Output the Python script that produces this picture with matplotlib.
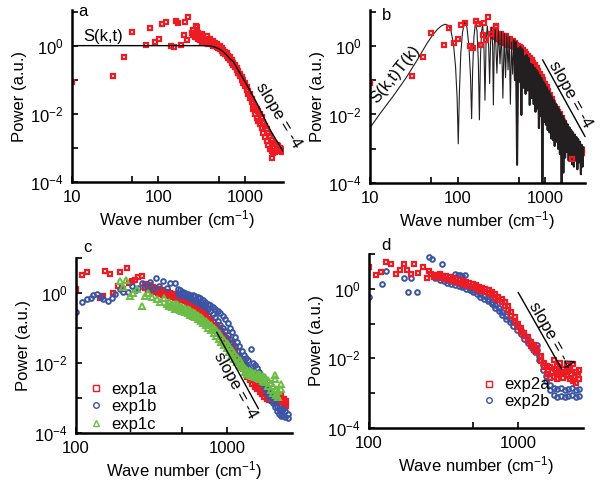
import matplotlib
matplotlib.use("Agg")
import matplotlib.pyplot as plt
from matplotlib.ticker import NullLocator

plt.rcParams['font.family'] = ['Liberation Sans', 'DejaVu Sans']
plt.rcParams['mathtext.default'] = 'regular'

RED = '#ed1c24'
BLUE = '#3a55a4'
GREEN = '#6cbd45'

# ---- panel a / b : measured spectrum (same data in both) ----
exp_k = [10, 30, 40, 50, 71, 80, 91, 101, 110, 122, 140, 151, 161, 170, 184, 195, 202, 214, 221, 242, 272, 2050]
exp_p = [0.083, 0.13, 0.48, 2.46, 1.05, 3.3, 1.25, 1.57, 4.2, 4.8, 1.0, 0.9, 5.3, 4.5, 1.05, 2.06, 4.8, 1.5, 6.8, 2.3, 3.8, 0.00049]
band_k = [253, 265, 276, 290, 302, 316, 330, 345, 360, 377, 394, 412, 430, 450, 471, 492, 514, 537, 562, 587,
          614, 641, 671, 701, 733, 766, 801, 837, 875, 915, 956, 1000, 1046, 1093, 1142, 1194, 1248, 1305, 1364, 1426,
          1490, 1557, 1628, 1700, 1780, 1860, 1945, 2030, 2125, 2220, 2322, 2430, 2538, 2650]
band_hi = [2.9, 2.4, 3.6, 2.3, 2.0, 2.2, 1.9, 1.6, 1.9, 1.5, 1.6, 1.3, 1.4, 1.2, 1.1, 1.0, 0.95, 0.85, 0.75, 0.66,
           0.6, 0.5, 0.45, 0.38, 0.32, 0.27, 0.22, 0.18, 0.15, 0.12, 0.1, 0.08, 0.062, 0.048, 0.037, 0.028, 0.021, 0.016, 0.014, 0.012,
           0.01, 0.008, 0.0055, 0.0045, 0.0035, 0.0028, 0.0022, 0.0017, 0.0014, 0.0013, 0.0012, 0.0011, 0.001, 0.0009]
band_lo = [2.0, 1.8, 1.8, 1.6, 1.5, 1.3, 1.4, 1.2, 1.3, 1.1, 1.2, 1.1, 1.0, 0.95, 0.9, 0.85, 0.78, 0.7, 0.62, 0.56,
           0.5, 0.43, 0.38, 0.32, 0.27, 0.23, 0.19, 0.155, 0.125, 0.1, 0.082, 0.065, 0.05, 0.038, 0.029, 0.022, 0.014, 0.01, 0.0075, 0.006,
           0.005, 0.0038, 0.0028, 0.0021, 0.0016, 0.0012, 0.00095, 0.0008, 0.0007, 0.00075, 0.0009, 0.00085, 0.0008, 0.00075]

# S(k,t) model curve (panel a)
sk_k = [10, 100, 300, 380, 412, 450, 505, 560, 614, 670, 733, 800, 875, 1000, 1140, 1365, 1630, 1950, 2330, 2750]
sk_p = [1.0, 1.0, 1.0, 0.99, 0.96, 0.9, 0.8, 0.66, 0.53, 0.41, 0.34, 0.23, 0.155, 0.088, 0.048, 0.021, 0.0084, 0.0034, 0.0016, 0.0008]

# S(k,t)T(k) model curve (panel b): smooth low-k part, then peaks / troughs
skt_low_k = [10, 13, 18.5, 26, 34, 44, 52, 60, 66, 72, 78, 84, 90, 95, 99, 102, 105, 109, 114, 121,
             128, 135, 141, 145, 149, 154, 160, 167, 173, 178, 183, 188, 194, 200, 206, 212, 219, 226, 233, 239,
             246, 252, 257, 263]
skt_low_p = [0.0041, 0.0105, 0.035, 0.12, 0.36, 1.1, 2.1, 3.2, 3.9, 4.3, 4.0, 2.9, 1.1, 0.25, 0.03, 0.0014, 0.04, 0.6, 2.5, 5.1,
             3.6, 1.0, 0.12, 0.0075, 0.2, 1.8, 4.6, 2.8, 0.35, 0.007, 0.45, 2.6, 4.0, 1.3, 0.026, 1.2, 3.8, 1.5, 0.08, 1.4,
             3.5, 1.0, 0.019, 1.1]
skt_peak_k = [270, 294, 318, 342, 366, 390, 414, 440, 466, 494, 522, 552, 584, 617, 651, 687, 725, 760, 796, 833,
              872, 913, 956, 1001, 1048, 1097, 1149, 1203, 1260, 1319, 1381, 1446, 1514, 1585, 1660, 1738, 1820, 1905, 1995, 2089,
              2187, 2290, 2398, 2511, 2629, 2750]
skt_peak_p = [3.2, 2.9, 2.6, 2.35, 2.1, 1.85, 1.3, 1.45, 1.28, 0.85, 0.95, 0.8, 0.5, 0.55, 0.45, 0.3, 0.28, 0.23, 0.2, 0.17,
              0.14, 0.115, 0.092, 0.076, 0.062, 0.05, 0.04, 0.032, 0.026, 0.021, 0.017, 0.014, 0.0115, 0.0092, 0.0075, 0.0062, 0.0051, 0.0042, 0.0035, 0.003,
              0.0026, 0.0022, 0.0019, 0.0016, 0.0013, 0.0011]
skt_trough_k = [282, 306, 330, 354, 378, 402, 427, 453, 480, 508, 537, 568, 600, 634, 669, 706, 742, 778, 814, 852,
                892, 934, 978, 1024, 1072, 1123, 1176, 1231, 1289, 1350, 1413, 1480, 1549, 1622, 1699, 1779, 1862, 1950, 2042, 2138,
                2238, 2344, 2454, 2571, 2689]
skt_trough_p = [0.16, 0.3, 0.03, 0.12, 0.2, 0.02, 0.15, 0.1, 0.00034, 0.09, 0.0097, 0.06, 0.04, 0.05, 0.019, 0.03, 0.02, 0.012, 0.015, 0.004,
                0.009, 0.00009, 0.006, 0.005, 0.0035, 0.003, 0.002, 0.0018, 0.0012, 0.0016, 0.001, 0.0007, 0.00009, 0.0002, 0.00055, 0.0008, 0.00045, 0.0006, 0.00035, 0.0003,
                0.00045, 0.00025, 0.0004, 0.00018, 0.0003]

slope_b_k = [940, 2860]
slope_b_p = [0.39, 0.0023]

# ---- panel c ----
e1a_k = [100, 109, 118, 144, 150, 156, 168, 177, 191, 196, 205, 217, 225, 234, 246, 259, 272]
e1a_p = [1.33, 3.2, 3.9, 0.74, 0.8, 4.2, 3.4, 1.02, 1.58, 3.9, 1.3, 5.2, 1.9, 2.2, 2.4, 2.9, 3.0]
e1a_bk = [285, 298, 310, 322, 335, 348, 362, 376, 390, 405, 420, 436, 452, 469, 487, 505, 524, 544, 564, 585,
          607, 630, 654, 678, 703, 730, 757, 786, 815, 846, 878, 910, 945, 980, 1017, 1055, 1095, 1136, 1178, 1222,
          1268, 1316, 1365, 1417, 1470, 1525, 1582, 1642, 1703, 1767, 1834, 1902, 1974, 2048, 2125, 2204, 2287, 2373, 2462]
e1a_hi = [1.8, 1.6, 1.7, 1.5, 1.4, 1.3, 1.25, 1.2, 1.1, 1.05, 1.0, 0.95, 0.92, 0.85, 0.8, 0.78, 0.75, 0.7, 0.65, 0.6,
          0.53, 0.47, 0.4, 0.35, 0.3, 0.26, 0.22, 0.18, 0.15, 0.12, 0.1, 0.08, 0.065, 0.052, 0.042, 0.034, 0.027, 0.021, 0.016, 0.012,
          0.0095, 0.0075, 0.0058, 0.0046, 0.0036, 0.003, 0.0025, 0.0021, 0.0018, 0.0015, 0.0013, 0.0011, 0.001, 0.0009, 0.00085, 0.0011, 0.0012, 0.00095, 0.0008]
e1a_lo = [1.4, 1.2, 1.3, 1.1, 1.15, 1.0, 0.95, 0.9, 0.85, 0.9, 0.8, 0.78, 0.72, 0.7, 0.65, 0.62, 0.6, 0.56, 0.5, 0.46,
          0.42, 0.37, 0.32, 0.28, 0.24, 0.2, 0.17, 0.14, 0.11, 0.09, 0.075, 0.06, 0.048, 0.038, 0.03, 0.024, 0.019, 0.015, 0.011, 0.0085,
          0.0066, 0.0052, 0.004, 0.0032, 0.0025, 0.0021, 0.0018, 0.0015, 0.0013, 0.0011, 0.00095, 0.00085, 0.0008, 0.00075, 0.0007, 0.00075, 0.0008, 0.00068, 0.0006]

e1b_k = [100, 109, 119, 125, 130, 138, 146, 152, 164, 172, 181, 196, 206, 220, 235, 248, 259, 275, 295, 310,
         325, 339, 355, 379, 400, 419, 452]
e1b_p = [0.28, 0.56, 0.66, 0.7, 0.86, 0.92, 0.75, 0.66, 0.59, 0.7, 0.92, 1.27, 1.07, 1.1, 1.6, 1.2, 1.4, 1.9, 1.5, 2.0,
         1.3, 2.7, 1.6, 2.2, 1.4, 1.96, 1.96]
e1b_bk = [470, 490, 510, 530, 550, 572, 595, 618, 642, 667, 693, 720, 748, 777, 807, 838, 870, 903, 937, 972,
          1008, 1045, 1083, 1122, 1162, 1204, 1247, 1291, 1337, 1384, 1432, 1482, 1533, 1586, 1640, 1696, 1754, 1813, 1874, 1937,
          2002, 2069, 2138, 2209, 2282, 2357, 2435, 2515]
e1b_hi = [1.3, 1.2, 1.1, 1.0, 0.95, 0.9, 0.85, 0.8, 0.75, 0.7, 0.62, 0.55, 0.5, 0.45, 0.4, 0.35, 0.3, 0.26, 0.22, 0.18,
          0.14, 0.1, 0.075, 0.055, 0.04, 0.03, 0.022, 0.017, 0.014, 0.012, 0.025, 0.01, 0.009, 0.007, 0.0055, 0.0042, 0.0032, 0.0024, 0.0018, 0.0014,
          0.0011, 0.0008, 0.0006, 0.0005, 0.00045, 0.0005, 0.00042, 0.00035]
e1b_lo = [0.95, 0.9, 0.85, 0.8, 0.75, 0.7, 0.65, 0.6, 0.55, 0.5, 0.45, 0.4, 0.35, 0.3, 0.25, 0.2, 0.16, 0.12, 0.1, 0.08,
          0.065, 0.05, 0.04, 0.03, 0.022, 0.016, 0.013, 0.011, 0.009, 0.0075, 0.0065, 0.006, 0.0052, 0.0045, 0.0035, 0.0027, 0.002, 0.0015, 0.0012, 0.0009,
          0.0007, 0.00055, 0.00042, 0.00035, 0.0003, 0.00032, 0.00028, 0.00026]

e1c_k = [196, 205, 214, 228, 240, 255, 272, 285, 301, 318, 342, 360, 380, 398]
e1c_p = [2.2, 1.5, 2.4, 0.82, 1.0, 1.3, 0.43, 0.8, 1.0, 0.75, 0.66, 0.55, 0.7, 0.48]
e1c_bk = [415, 432, 450, 468, 487, 507, 528, 549, 571, 594, 618, 643, 669, 696, 724, 753, 783, 815, 848, 882,
          918, 955, 993, 1033, 1075, 1118, 1163, 1210, 1259, 1310, 1362, 1417, 1474, 1533, 1595, 1659, 1726, 1796, 1868, 1943,
          2021, 2080, 2103, 2188, 2276]
e1c_hi = [0.55, 0.5, 0.48, 0.5, 0.42, 0.4, 0.37, 0.34, 0.32, 0.29, 0.27, 0.24, 0.21, 0.18, 0.16, 0.14, 0.12, 0.1, 0.085, 0.07,
          0.058, 0.046, 0.037, 0.03, 0.024, 0.019, 0.015, 0.012, 0.0095, 0.007, 0.0062, 0.0058, 0.0055, 0.0052, 0.005, 0.0046, 0.0042, 0.004, 0.0033, 0.0026,
          0.0022, 0.0045, 0.0018, 0.0016, 0.0025]
e1c_lo = [0.42, 0.4, 0.36, 0.34, 0.32, 0.3, 0.28, 0.26, 0.24, 0.22, 0.2, 0.18, 0.16, 0.14, 0.12, 0.1, 0.085, 0.07, 0.06, 0.05,
          0.04, 0.032, 0.026, 0.021, 0.017, 0.013, 0.011, 0.0088, 0.0075, 0.0055, 0.005, 0.0046, 0.0043, 0.004, 0.0038, 0.0035, 0.0031, 0.0028, 0.0022, 0.0017,
          0.0014, 0.0035, 0.0012, 0.0011, 0.0018]

slope_c_k = [855, 1611]
slope_c_p = [0.075, 0.0005]

# ---- panel d ----
e2a_k = [100, 111, 120, 130, 141, 151, 162, 172, 181, 191, 201, 214, 232, 244, 252, 261, 272, 285]
e2a_p = [4.2, 2.46, 3.1, 6.0, 5.3, 2.7, 3.4, 5.1, 3.4, 2.6, 5.1, 2.9, 4.2, 2.0, 3.2, 2.6, 2.2, 2.5]
e2a_bk = [300, 315, 331, 348, 366, 385, 405, 426, 448, 471, 495, 520, 547, 575, 605, 636, 669, 703, 739, 777,
          817, 859, 903, 950, 998, 1050, 1103, 1160, 1220, 1282, 1348, 1417, 1490, 1567, 1647, 1732, 1821, 1914, 2013, 2116,
          2225, 2339, 2459, 2585]
e2a_hi = [2.6, 2.4, 2.3, 2.2, 2.0, 1.9, 1.8, 1.7, 1.6, 1.5, 1.4, 1.3, 1.15, 1.05, 0.98, 0.9, 0.8, 0.7, 0.6, 0.52,
          0.42, 0.32, 0.22, 0.15, 0.1, 0.075, 0.055, 0.042, 0.03, 0.024, 0.02, 0.012, 0.0075, 0.006, 0.0055, 0.009, 0.006, 0.0075, 0.005, 0.0065,
          0.0045, 0.007, 0.004, 0.0045]
e2a_lo = [2.1, 2.0, 1.9, 1.8, 1.7, 1.6, 1.5, 1.4, 1.3, 1.2, 1.15, 1.05, 0.95, 0.88, 0.8, 0.75, 0.65, 0.55, 0.48, 0.42,
          0.33, 0.25, 0.17, 0.12, 0.08, 0.058, 0.043, 0.032, 0.023, 0.018, 0.015, 0.0085, 0.0055, 0.0035, 0.0028, 0.003, 0.0025, 0.0035, 0.0028, 0.0032,
          0.0025, 0.0022, 0.002, 0.0025]
e2a_xk = [1600, 1680, 1760, 1850, 1950, 2050, 2160, 2270, 2400, 2520]
e2a_xp = [0.0045, 0.004, 0.0048, 0.0038, 0.0042, 0.0036, 0.0044, 0.0035, 0.003, 0.0033]

e2b_k = [100, 122, 131, 172, 182, 191, 211, 253, 263, 277, 310, 378, 393, 408, 424, 440]
e2b_p = [0.59, 1.42, 3.3, 2.0, 0.82, 2.0, 0.82, 8.4, 7.0, 2.0, 5.3, 2.6, 2.5, 2.5, 2.4, 2.5]
e2b_bk = [300, 318, 336, 356, 377, 399, 422, 447, 473, 500, 529, 560, 593, 627, 664, 702, 743, 786, 832, 880,
          931, 985, 1042, 1103, 1167, 1235, 1307, 1335, 1383, 1463, 1548, 1638, 1733, 1834, 1940, 2053, 2172, 2298, 2432, 2573]
e2b_hi = [2.2, 2.0, 1.85, 1.7, 1.55, 1.45, 1.3, 1.2, 1.05, 0.95, 0.85, 0.72, 0.62, 0.52, 0.43, 0.35, 0.28, 0.22, 0.17, 0.14,
          0.11, 0.085, 0.065, 0.048, 0.036, 0.026, 0.02, 0.024, 0.012, 0.0065, 0.0032, 0.0017, 0.0014, 0.0013, 0.0014, 0.0012, 0.0013, 0.0014, 0.0012, 0.0013]
e2b_lo = [1.8, 1.65, 1.5, 1.4, 1.3, 1.2, 1.1, 1.0, 0.9, 0.8, 0.7, 0.6, 0.52, 0.44, 0.36, 0.29, 0.23, 0.18, 0.14, 0.11,
          0.085, 0.065, 0.05, 0.037, 0.027, 0.02, 0.015, 0.018, 0.009, 0.0045, 0.0022, 0.0012, 0.0009, 0.0008, 0.00085, 0.0008, 0.00085, 0.0009, 0.0008, 0.00085]

slope_d_k = [1004, 1963]
slope_d_p = [0.78, 0.005]

# ------------------------------------------------------------
W, H = 601, 482
fig = plt.figure(figsize=(W / 100, H / 100), dpi=100)


def px_axes(left, top, right, bottom):
    return fig.add_axes([left / W, 1 - bottom / H, (right - left) / W, (bottom - top) / H])


def style(ax, xlim, ylim, xticks, xlabels):
    ax.set_xscale('log')
    ax.set_yscale('log')
    ax.set_xlim(*xlim)
    ax.set_ylim(*ylim)
    for s in ('top', 'right'):
        ax.spines[s].set_visible(False)
    for s in ('left', 'bottom'):
        ax.spines[s].set_linewidth(1.8)
        ax.spines[s].set_zorder(5)
    ax.set_xticks(xticks)
    ax.set_xticklabels(xlabels)
    ax.set_yticks([1e-4, 1e-3, 1e-2, 1e-1, 1, 10])
    ax.set_yticklabels(['10$^{-4}$', '', '10$^{-2}$', '', '10$^{0}$', ''])
    ax.xaxis.set_minor_locator(NullLocator())
    ax.yaxis.set_minor_locator(NullLocator())
    ax.tick_params(direction='in', length=4, width=1.2, labelsize=12, pad=6)
    ax.set_xlabel('Wave number (cm$^{-1}$)', fontsize=12, labelpad=2)
    ax.set_ylabel('Power (a.u.)', fontsize=12, labelpad=2)


sq = dict(ls='none', marker='s', ms=3.1, mfc='none', mew=1.6)
ci = dict(ls='none', marker='o', ms=3.4, mfc='none', mew=1.4)
tr = dict(ls='none', marker='^', ms=3.8, mfc='none', mew=1.4)
leg_sq = dict(ls='none', marker='s', ms=4, mfc='none', mew=1.0)
leg_ci = dict(ls='none', marker='o', ms=4, mfc='none', mew=1.0)
leg_tr = dict(ls='none', marker='^', ms=4.5, mfc='none', mew=1.0)

# panel a
ax = px_axes(72, 10, 283, 182)
ax.plot(exp_k, exp_p, color=RED, **sq)
ax.plot(band_k, band_hi, color=RED, **sq)
ax.plot(band_k, band_lo, color=RED, **sq)
ax.plot(sk_k, sk_p, color='black', lw=1.0, zorder=3)
ax.text(23, 1.85, 'S(k,t)', fontsize=12, ha='center', va='center')
ax.text(2450, 0.009, 'slope = -4', fontsize=12, rotation=-58.6, ha='center', va='center',
        rotation_mode='anchor', clip_on=False)
style(ax, (10, 2750), (1e-4, 11.1), [10, 50, 100, 500, 1000], ['10', '', '100', '', '1000'])
fig.text(83 / W, 1 - 12 / H, 'a', fontsize=12, ha='center', va='center')

# panel b
skt_k = list(skt_low_k)
skt_p = list(skt_low_p)
for i in range(len(skt_peak_k)):
    skt_k.append(skt_peak_k[i])
    skt_p.append(skt_peak_p[i])
    if i < len(skt_trough_k):
        skt_k.append(skt_trough_k[i])
        skt_p.append(skt_trough_p[i])
dense_from = skt_k.index(440)

ax = px_axes(370, 10, 585, 183)
ax.plot(band_k, band_hi, color=RED, zorder=1, **sq)
ax.plot(band_k, band_lo, color=RED, zorder=1, **sq)
ax.plot(skt_k, skt_p, color='#231f20', lw=0.8, zorder=2)
ax.plot(skt_k[dense_from:], skt_p[dense_from:], color='#231f20', lw=1.5, zorder=2)
ax.plot(exp_k, exp_p, color=RED, zorder=3, **sq)
ax.plot(slope_b_k, slope_b_p, color='black', lw=1.0, clip_on=False)
ax.text(19.3, 0.15, 'S(k,t)T(k)', fontsize=12, rotation=51, ha='center', va='center', rotation_mode='anchor')
ax.text(1931, 0.037, 'slope = -4', fontsize=12, rotation=-61, ha='center', va='center',
        rotation_mode='anchor', clip_on=False)
style(ax, (10, 2865), (1e-4, 11.2), [10, 50, 100, 500, 1000], ['10', '', '100', '', '1000'])
fig.text(387 / W, 1 - 15 / H, 'b', fontsize=12, ha='center', va='center')

# panel c
ax = px_axes(76, 258, 292, 433)
ax.plot(e1a_k, e1a_p, color=RED, **sq)
ax.plot(e1a_bk, e1a_hi, color=RED, **sq)
ax.plot(e1a_bk, e1a_lo, color=RED, **sq)
ax.plot(e1b_k, e1b_p, color=BLUE, **ci)
ax.plot(e1b_bk, e1b_hi, color=BLUE, **ci)
ax.plot(e1b_bk, e1b_lo, color=BLUE, **ci)
ax.plot(e1c_k, e1c_p, color=GREEN, **tr)
ax.plot(e1c_bk, e1c_hi, color=GREEN, **tr)
ax.plot(e1c_bk, e1c_lo, color=GREEN, **tr)
ax.plot(slope_c_k, slope_c_p, color='black', lw=1.0)
ax.text(1130, 0.0023, 'slope = -4', fontsize=12, rotation=-61, ha='center', va='center', rotation_mode='anchor')
h1 = ax.plot([], [], color=RED, **leg_sq)[0]
h2 = ax.plot([], [], color=BLUE, **leg_ci)[0]
h3 = ax.plot([], [], color=GREEN, **leg_tr)[0]
ax.legend([h1, h2, h3], ['exp1a', 'exp1b', 'exp1c'], loc='lower left', bbox_to_anchor=(0.03, -0.03),
          frameon=False, fontsize=12, handlelength=0.8, handletextpad=0.5, labelspacing=0.15, borderaxespad=0)
style(ax, (100, 2692), (1e-4, 9.2), [100, 500, 1000], ['100', '', '1000'])
fig.text(87 / W, 1 - 248 / H, 'c', fontsize=12, ha='center', va='center')

# panel d
ax = px_axes(369, 254, 583, 428)
ax.plot(e2b_k, e2b_p, color=BLUE, **ci)
ax.plot(e2b_bk, e2b_hi, color=BLUE, **ci)
ax.plot(e2b_bk, e2b_lo, color=BLUE, **ci)
ax.plot(e2a_k, e2a_p, color=RED, **sq)
ax.plot(e2a_bk, e2a_hi, color=RED, **sq)
ax.plot(e2a_bk, e2a_lo, color=RED, **sq)
ax.plot(e2a_xk, e2a_xp, color=RED, **sq)
ax.plot(slope_d_k, slope_d_p, color='black', lw=1.0)
ax.text(1665, 0.045, 'slope = -4', fontsize=12, rotation=-60.5, ha='center', va='center', rotation_mode='anchor')
h1 = ax.plot([], [], color=RED, **leg_sq)[0]
h2 = ax.plot([], [], color=BLUE, **leg_ci)[0]
ax.legend([h1, h2], ['exp2a', 'exp2b'], loc='lower left', bbox_to_anchor=(0.5, 0.07),
          frameon=False, fontsize=12, handlelength=0.8, handletextpad=0.5, labelspacing=0.1, borderaxespad=0)
style(ax, (100, 2730), (1e-4, 9.4), [100, 500, 1000], ['100', '', '1000'])
fig.text(386 / W, 1 - 245 / H, 'd', fontsize=12, ha='center', va='center')

fig.savefig('out.png', dpi=100)
